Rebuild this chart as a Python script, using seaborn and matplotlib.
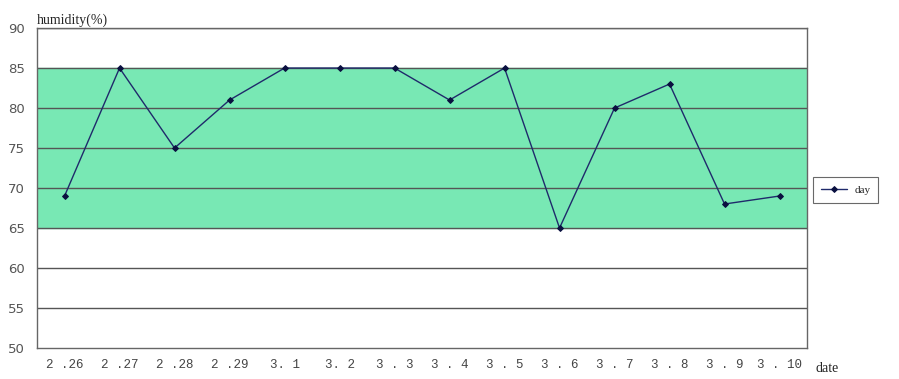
import pandas as pd
import seaborn as sns
import matplotlib.pyplot as plt
from matplotlib.ticker import FixedLocator

# Data
dates = ["2 .26", "2 .27", "2 .28", "2 .29", "3. 1", "3. 2", "3 . 3",
         "3 . 4", "3 . 5", "3 . 6", "3 . 7", "3 . 8", "3 . 9", "3 . 10"]
humidity = [69, 85, 75, 81, 85, 85, 85, 81, 85, 65, 80, 83, 68, 69]
band_low = 65
band_high = 85

df = pd.DataFrame({"pos": range(len(dates)), "humidity": humidity})

sns.set_style("white")

fig = plt.figure(figsize=(8.99, 3.79), dpi=100)
ax = fig.add_axes([0.0412, 0.0818, 0.8565, 0.8442])

# comfortable humidity band
ax.axhspan(band_low, band_high, color="#78e8b4", zorder=0)

# horizontal grid
for y in range(55, 95, 5):
    ax.axhline(y, color="#555555", lw=1.0, zorder=1)

sns.lineplot(data=df, x="pos", y="humidity", ax=ax, color="#1f2a6b",
             lw=1.0, marker="D", markersize=3, markeredgecolor="#0a1040",
             markerfacecolor="#0a1040", label="day", zorder=3)

ax.set_xlim(-0.5, len(dates) - 0.5)
ax.set_ylim(50, 90)
ax.set_yticks(range(50, 95, 5))
ax.tick_params(axis="y", labelsize=9.5, colors="#555555", length=0, pad=9)

ax.set_xticks(df["pos"])
ax.set_xticklabels(dates, family="Liberation Mono", fontsize=9, color="#444444")
ax.tick_params(axis="x", which="major", length=0, pad=8)
ax.xaxis.set_minor_locator(FixedLocator([i + 0.5 for i in range(len(dates) - 1)]))
ax.tick_params(axis="x", which="minor", direction="in", length=3, color="#555555")

for s in ax.spines.values():
    s.set_color("#666666")
    s.set_linewidth(1.0)

ax.set_xlabel("")
ax.set_ylabel("")
fig.text(37 / 899, 1 - 20 / 379, "humidity(%)", family="Liberation Serif",
         fontsize=10, va="center", ha="left")
fig.text(815 / 899, 1 - 369 / 379, "date", family="Liberation Serif",
         fontsize=10, va="center", ha="left")

leg = ax.legend(loc="center left", bbox_to_anchor=(1.008, 0.494),
                prop={"family": "Liberation Serif", "size": 8},
                frameon=True, fancybox=False, edgecolor="#444444",
                handlelength=2.3, borderpad=0.7, handletextpad=0.7,
                borderaxespad=0)
leg.get_frame().set_linewidth(0.8)

plt.savefig("out.png", dpi=100)
